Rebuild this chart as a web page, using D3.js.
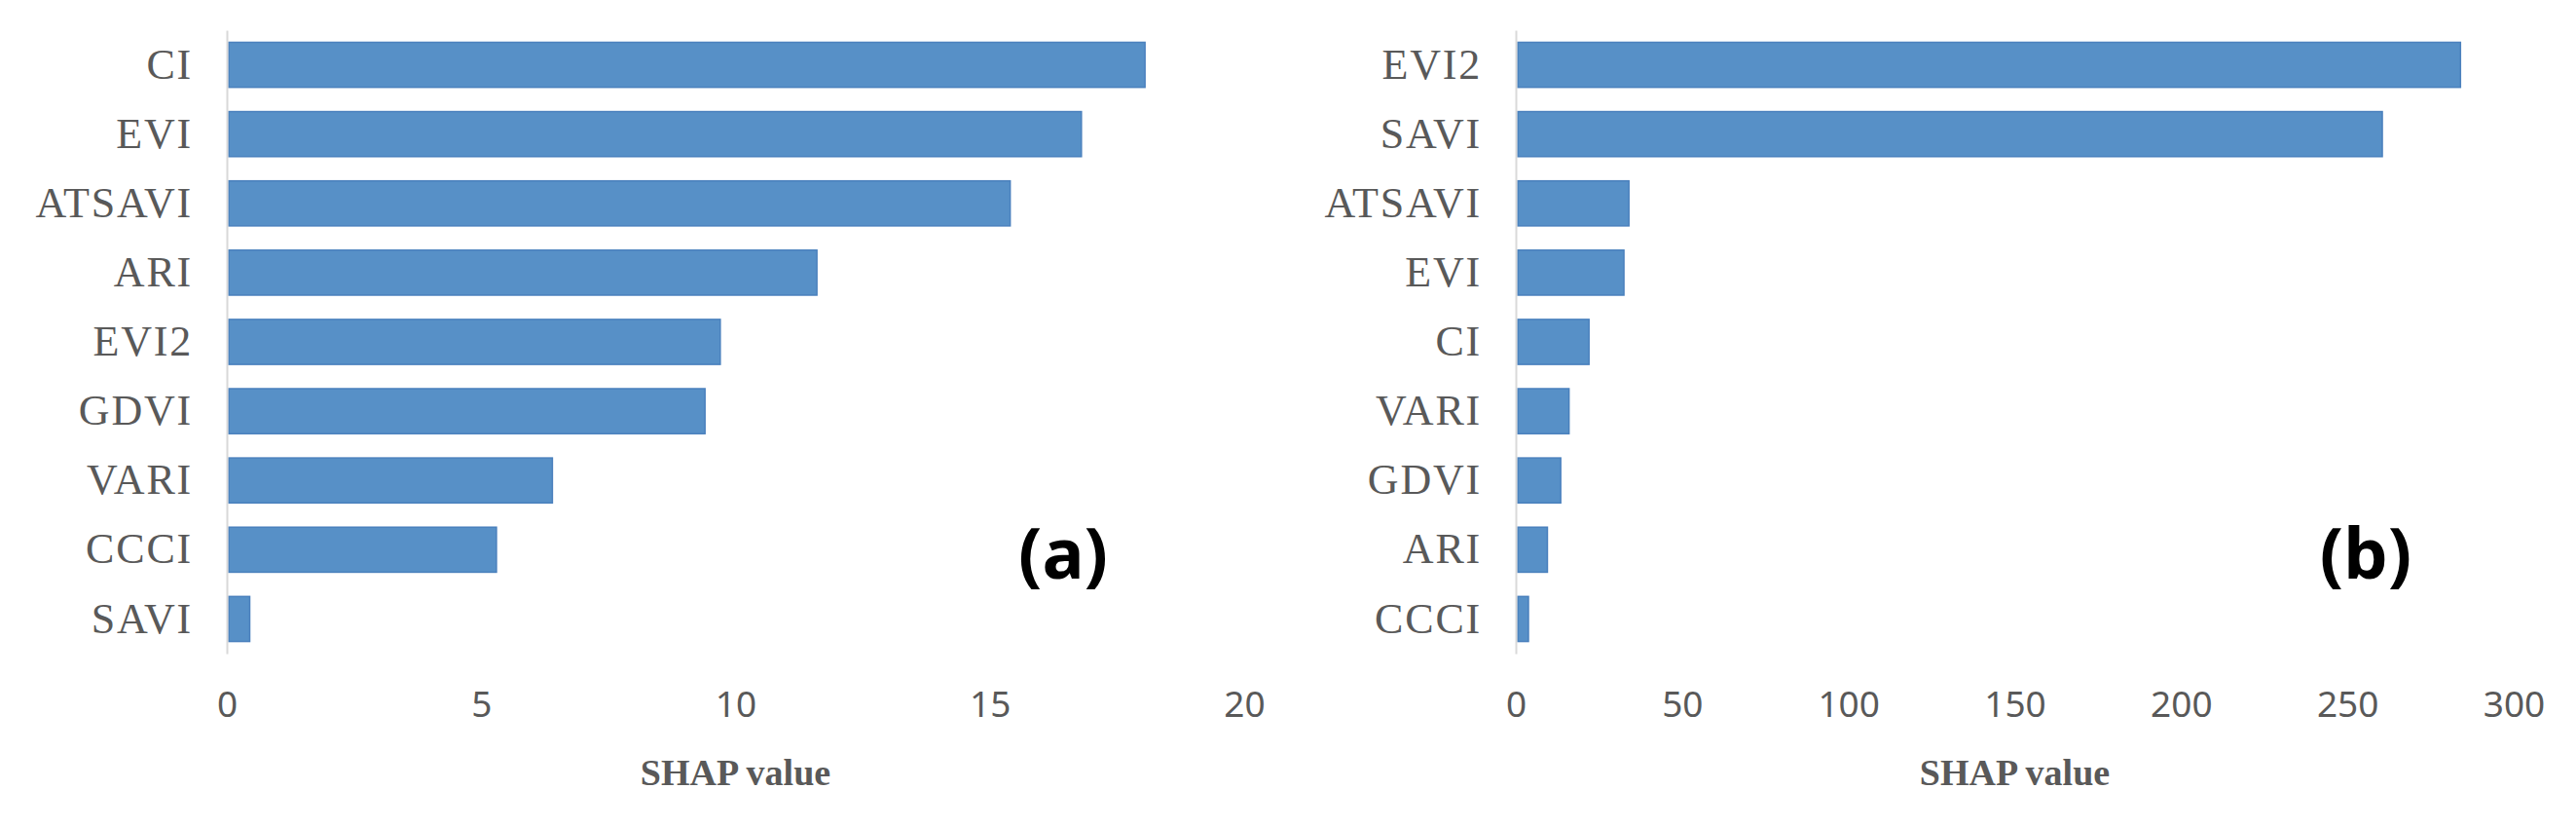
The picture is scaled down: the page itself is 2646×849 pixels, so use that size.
<!DOCTYPE html>
<html>
<head>
<meta charset="utf-8">
<script src="https://cdn.jsdelivr.net/npm/d3@7"></script>
<style>
  body { margin: 0; background: #fff; }
</style>
</head>
<body>
<svg id="chart"></svg>
<script>
(function () {
    'use strict';

    // panel (a)
    var namesA = ["CI", "EVI", "ATSAVI", "ARI", "EVI2", "GDVI", "VARI", "CCCI", "SAVI"];
    var valuesA = [18.05, 16.8, 15.4, 11.6, 9.7, 9.4, 6.4, 5.3, 0.45];
    var ticksA = [0, 5, 10, 15, 20];

    // panel (b)
    var namesB = ["EVI2", "SAVI", "ATSAVI", "EVI", "CI", "VARI", "GDVI", "ARI", "CCCI"];
    var valuesB = [284, 260.5, 34, 32.5, 22, 16, 13.5, 9.5, 3.8];
    var ticksB = [0, 50, 100, 150, 200, 250, 300];

    var width = 2646, height = 849,
        top = 31, bottom = 671,
        grey = "#595959";

    var svg = d3.select("#chart")
        .attr("width", width)
        .attr("height", height);

    svg.append("rect")
        .attr("width", width)
        .attr("height", height)
        .attr("fill", "#fff");

    var panels = [
        { names: namesA, values: valuesA, ticks: ticksA, left: 233, right: 1278, tag: "(a)", tagX: 1092 },
        { names: namesB, values: valuesB, ticks: ticksB, left: 1557, right: 2582, tag: "(b)", tagX: 2430 }
    ];

    panels.forEach(function (p) {
        var x = d3.scaleLinear()
            .domain([0, d3.max(p.ticks)])
            .range([p.left, p.right]);

        var y = d3.scaleBand()
            .domain(p.names)
            .range([top, bottom])
            .paddingInner(0.35)
            .paddingOuter(0.175);

        var g = svg.append("g");

        g.selectAll("rect.bar")
            .data(p.names)
            .enter()
            .append("rect")
            .attr("class", "bar")
            .attr("x", x(0) + 2)
            .attr("y", function (d) { return y(d); })
            .attr("width", function (d, i) { return Math.max(0, x(p.values[i]) - x(0) - 2); })
            .attr("height", y.bandwidth())
            .attr("fill", "#5790c7")
            .attr("stroke", "#4a80bd")
            .attr("stroke-width", 1.5);

        var yAxis = g.append("g")
            .attr("transform", "translate(" + x(0) + ",0)")
            .call(d3.axisLeft(y).tickSize(0).tickSizeOuter(0).tickPadding(35));
        yAxis.select(".domain")
            .attr("stroke", "#d9d9d9")
            .attr("stroke-width", 2);
        yAxis.selectAll("text")
            .attr("font-family", "'Liberation Serif', 'Times New Roman', serif")
            .attr("font-size", 44)
            .attr("letter-spacing", 1.8)
            .attr("fill", grey);

        var xAxis = g.append("g")
            .attr("transform", "translate(0,710)")
            .call(d3.axisBottom(x).tickValues(p.ticks).tickSize(0).tickPadding(0));
        xAxis.select(".domain").remove();
        xAxis.selectAll("text")
            .attr("font-family", "'Noto Sans', sans-serif")
            .attr("font-size", 37)
            .attr("fill", grey);

        g.append("text")
            .attr("x", (p.left + p.right) / 2)
            .attr("y", 806)
            .attr("text-anchor", "middle")
            .attr("font-family", "'Liberation Serif', 'Times New Roman', serif")
            .attr("font-weight", "bold")
            .attr("font-size", 38)
            .attr("fill", grey)
            .text("SHAP value");

        g.append("text")
            .attr("x", p.tagX)
            .attr("y", 594)
            .attr("text-anchor", "middle")
            .attr("font-family", "'Noto Sans', sans-serif")
            .attr("font-weight", "bold")
            .attr("font-size", 72)
            .attr("fill", "#000")
            .text(p.tag);
    });
})();
</script>
</body>
</html>
